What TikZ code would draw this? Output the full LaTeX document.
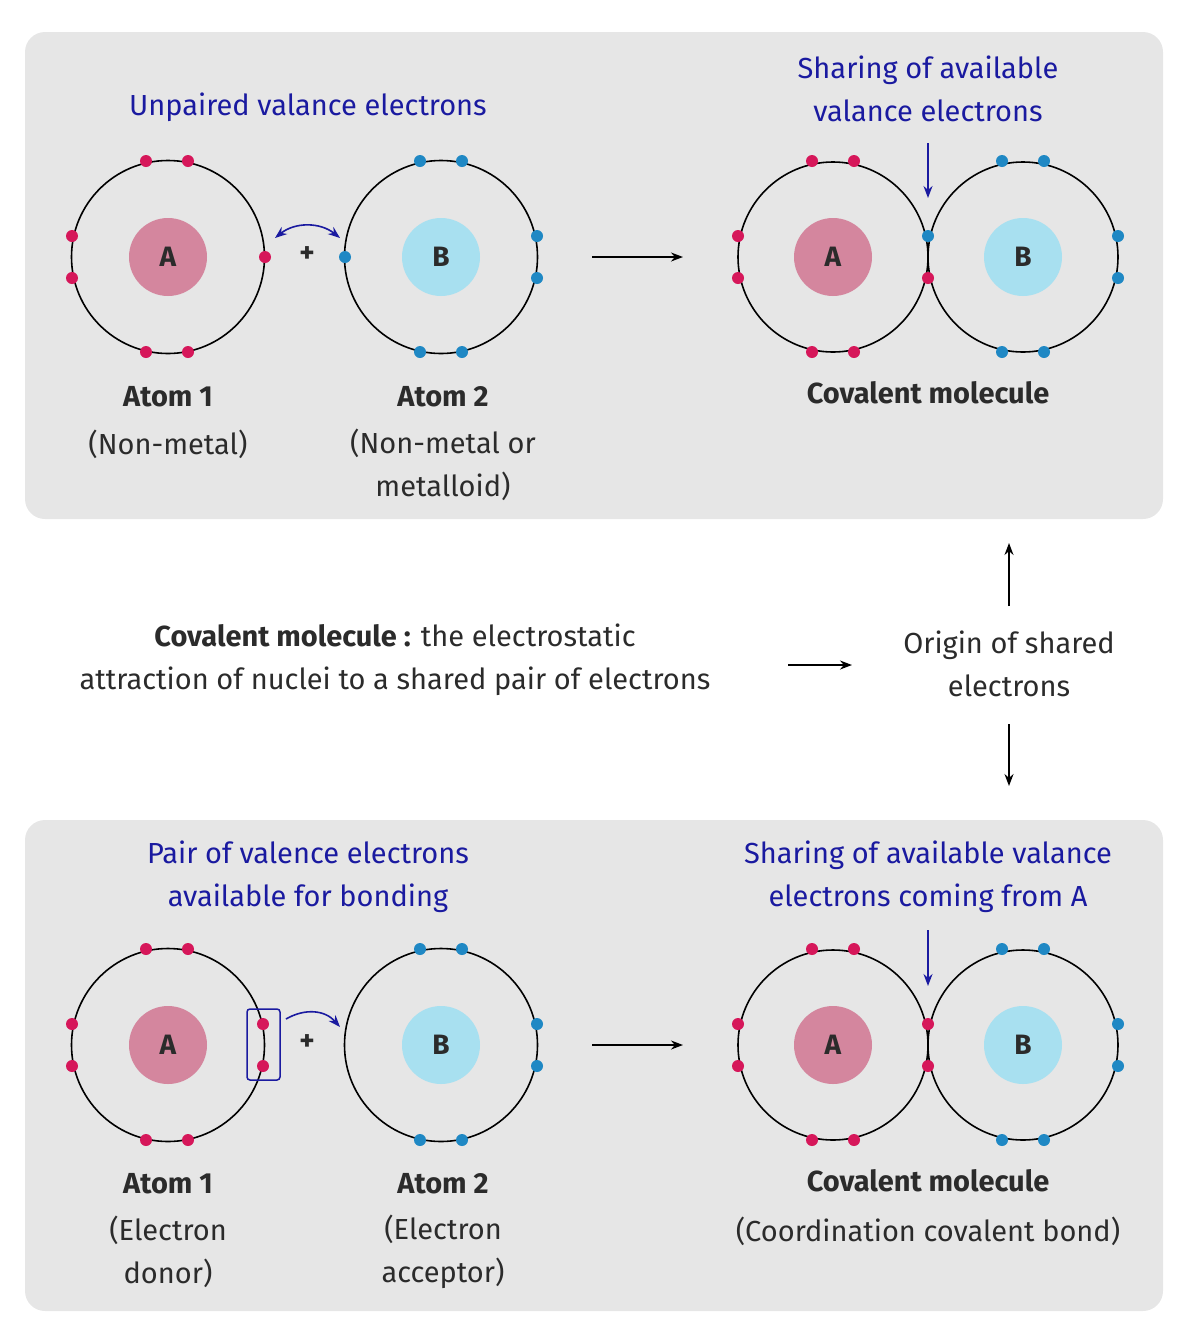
\documentclass[tikz,border=0pt]{standalone}
\usepackage{fontspec}
\setmainfont{Fira Sans}
\usetikzlibrary{arrows.meta}
\definecolor{panel}{HTML}{E6E6E6}
\definecolor{nucA}{HTML}{D4869E}
\definecolor{nucB}{HTML}{A8E0F0}
\definecolor{eA}{HTML}{D6175A}
\definecolor{eB}{HTML}{1F88C4}
\definecolor{lbl}{HTML}{1A1AA0}
\definecolor{txt}{HTML}{2B2B2B}
\tikzset{
 orbit/.style={draw=black,line width=1.6pt,circle,minimum size=193pt,inner sep=0pt},
 nucleusA/.style={circle,fill=nucA,minimum size=78pt,inner sep=0pt,font=\fontsize{28}{32}\selectfont\bfseries,text=txt},
 nucleusB/.style={circle,fill=nucB,minimum size=78pt,inner sep=0pt,font=\fontsize{28}{32}\selectfont\bfseries,text=txt},
 ea/.style={circle,fill=eA,minimum size=12pt,inner sep=0pt},
 eb/.style={circle,fill=eB,minimum size=12pt,inner sep=0pt},
 blue lbl/.style={text=lbl,font=\fontsize{29}{43}\selectfont,align=center},
 body/.style={text=txt,font=\fontsize{29}{43}\selectfont,align=center},
 bold/.style={text=txt,font=\fontsize{29}{43}\selectfont\bfseries,align=center},
 blk/.style={-{Stealth[length=12pt,width=9pt]},line width=1.5pt},
 blu/.style={-{Stealth[length=12pt,width=9pt]},line width=1.6pt,draw=lbl},
}
\begin{document}
\begin{tikzpicture}[x=1pt,y=-1pt]
\useasboundingbox (0,0) rectangle (1200,1342);
\fill[panel,rounded corners=20pt] (25,32) rectangle (1163,519);
\fill[panel,rounded corners=20pt] (25,820) rectangle (1163,1311);
% ===== TOP =====
\node[orbit] (o1) at (168,257) {};
\node[nucleusA] (n1) at (168,257) {A};
\foreach \i/\p in {1/{146,161},2/{188,161},3/{146,352},4/{188,352},5/{72,236},6/{72,278},7/{265,257}}
  \node[ea] (t1e\i) at (\p) {};
\node[orbit] (o2) at (441,257) {};
\node[nucleusB] (n2) at (441,257) {B};
\foreach \i/\p in {1/{420,161},2/{462,161},3/{420,352},4/{462,352},5/{537,236},6/{537,278},7/{345,257}}
  \node[eb] (t2e\i) at (\p) {};
\node[bold] (plus1) at (307,255) {+};
\coordinate (ca1) at (275,238); \coordinate (ca2) at (340,238);
\draw[{Stealth[length=12pt,width=9pt]}-{Stealth[length=12pt,width=9pt]},line width=1.6pt,draw=lbl] (ca1) .. controls (295,222) and (320,222) .. (ca2);
\coordinate (ar1s) at (592,257); \coordinate (ar1e) at (683,257);
\draw[blk] (ar1s) -- (ar1e);
\node[orbit,minimum size=190pt] (m1a) at (833,257) {};
\node[orbit,minimum size=190pt] (m1b) at (1023,257) {};
\node[nucleusA] at (833,257) {A};
\node[nucleusB] at (1023,257) {B};
\foreach \i/\p in {1/{812,161},2/{854,161},3/{812,352},4/{854,352},5/{738,236},6/{738,278},7/{928,278}}
  \node[ea] (m1ea\i) at (\p) {};
\foreach \i/\p in {1/{1002,161},2/{1044,161},3/{1002,352},4/{1044,352},5/{1118,236},6/{1118,278},7/{928,236}}
  \node[eb] (m1eb\i) at (\p) {};
\coordinate (d1s) at (928,143); \coordinate (d1e) at (928,198);
\draw[blu] (d1s) -- (d1e);
\node[blue lbl] (l1) at (308,107) {Unpaired valance electrons};
\node[blue lbl] (l2) at (928,89) {Sharing of available\\valance electrons};
\node[bold] (a1) at (168,397) {Atom 1};
\node[body] (a1d) at (168,444) {(Non-metal)};
\node[bold] (a2) at (443,397) {Atom 2};
\node[body] (a2d) at (443,465) {(Non-metal or\\metalloid)};
\node[bold] (cm1) at (928,393) {Covalent molecule};
% ===== MIDDLE =====
\node[body] (def) at (395,660) {\textbf{Covalent molecule :} the electrostatic\\attraction of nuclei to a shared pair of electrons};
\node[body] (orig) at (1009,664) {Origin of shared\\electrons};
\coordinate (m1) at (788,665); \coordinate (m2) at (852,665);
\draw[blk] (m1) -- (m2);
\coordinate (u1) at (1009,606); \coordinate (u2) at (1009,543);
\draw[blk] (u1) -- (u2);
\coordinate (w1) at (1009,724); \coordinate (w2) at (1009,786);
\draw[blk] (w1) -- (w2);
% ===== BOTTOM =====
\node[orbit] (bo1) at (168,1045) {};
\node[nucleusA] at (168,1045) {A};
\foreach \i/\p in {1/{146,949},2/{188,949},3/{146,1140},4/{188,1140},5/{72,1024},6/{72,1066},7/{263,1024},8/{263,1066}}
  \node[ea] (b1e\i) at (\p) {};
\draw[lbl,line width=1.5pt,rounded corners=3pt] (247,1009) rectangle (280,1080);
\node[orbit] (bo2) at (441,1045) {};
\node[nucleusB] at (441,1045) {B};
\foreach \i/\p in {1/{420,949},2/{462,949},3/{420,1140},4/{462,1140},5/{537,1024},6/{537,1066}}
  \node[eb] (b2e\i) at (\p) {};
\node[bold] (plus2) at (307,1043) {+};
\coordinate (cb1) at (286,1019); \coordinate (cb2) at (340,1027);
\draw[blu] (cb1) .. controls (305,1008) and (325,1010) .. (cb2);
\coordinate (ar2s) at (592,1045); \coordinate (ar2e) at (683,1045);
\draw[blk] (ar2s) -- (ar2e);
\node[orbit,minimum size=190pt] (m2a) at (833,1045) {};
\node[orbit,minimum size=190pt] (m2b) at (1023,1045) {};
\node[nucleusA] at (833,1045) {A};
\node[nucleusB] at (1023,1045) {B};
\foreach \i/\p in {1/{812,949},2/{854,949},3/{812,1140},4/{854,1140},5/{738,1024},6/{738,1066},7/{928,1024},8/{928,1066}}
  \node[ea] (m2ea\i) at (\p) {};
\foreach \i/\p in {1/{1002,949},2/{1044,949},3/{1002,1140},4/{1044,1140},5/{1118,1024},6/{1118,1066}}
  \node[eb] (m2eb\i) at (\p) {};
\coordinate (d2s) at (928,930); \coordinate (d2e) at (928,986);
\draw[blu] (d2s) -- (d2e);
\node[blue lbl] (l3) at (308,877) {Pair of valence electrons\\available for bonding};
\node[blue lbl] (l4) at (928,877) {Sharing of available valance\\electrons coming from A};
\node[bold] (b1) at (168,1184) {Atom 1};
\node[body] (b1d) at (168,1252) {(Electron\\donor)};
\node[bold] (b2) at (443,1184) {Atom 2};
\node[body] (b2d) at (443,1252) {(Electron\\acceptor)};
\node[bold] (cm2) at (928,1181) {Covalent molecule};
\node[body] (cm2d) at (928,1231) {(Coordination covalent bond)};
\end{tikzpicture}
\end{document}
